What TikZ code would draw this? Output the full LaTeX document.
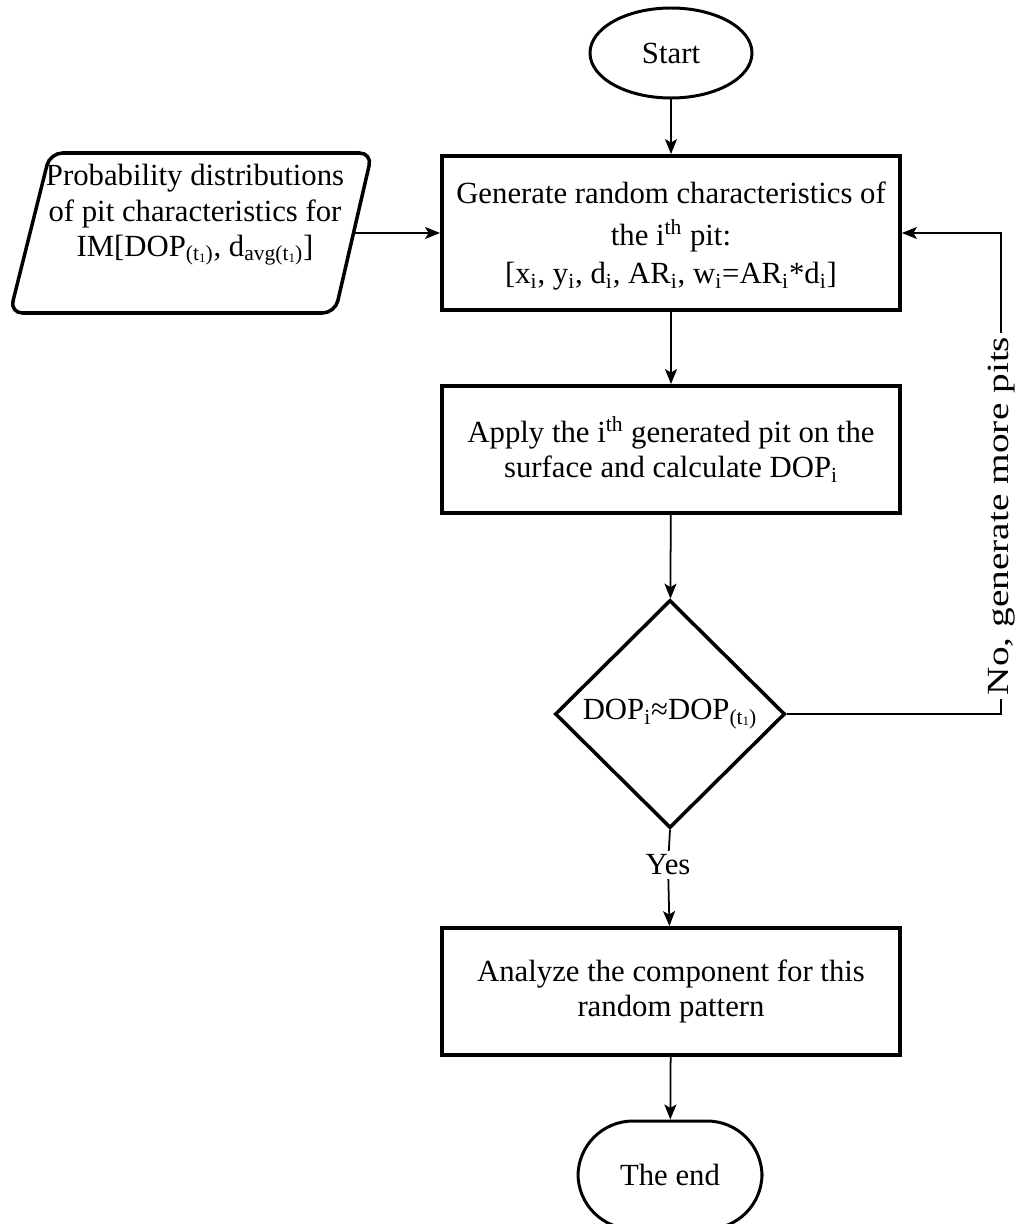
\documentclass[tikz,border=0pt]{standalone}
\usepackage{fontspec}
\setmainfont{Liberation Serif}
\usetikzlibrary{arrows.meta,shapes.geometric}
\newcommand{\subx}[1]{\textsubscript{#1}}
\newcommand{\supx}[1]{\textsuperscript{#1}}
\newcommand{\tone}{(t\raisebox{-0.15ex}{\scalebox{0.6}{1}})}
\begin{document}
\begin{tikzpicture}[font=\fontsize{17.5}{20}\selectfont,
    stepbox/.style={draw, line width=2.2pt, minimum width=9.16cm, align=center, inner sep=0pt},
    term/.style={draw, line width=1.7pt, align=center},
    arr/.style={-{Stealth[length=0.3cm,width=0.24cm,inset=0.07cm]}, line width=1pt},
    lbl/.style={fill=white, inner sep=2pt}]
    \useasboundingbox (0,0) rectangle (20.46,-24.48);
    \node [term, ellipse, minimum width=3.24cm, minimum height=1.8cm] (start) at (13.42,-1.06) {Start};
    \node [stepbox, minimum height=3.08cm] (gen) at (13.42,-4.66) {};
    \node [align=center] (gentxt) at (13.42,-4.72) {Generate random characteristics of\\[4pt] the i\supx{th} pit:\\[2pt] {[}x\subx{i}, y\subx{i}, d\subx{i}, AR\subx{i}, w\subx{i}=AR\subx{i}*d\subx{i}]};
    \draw [line width=2pt, rounded corners=0.25cm] (1,-3.06) -- (7.44,-3.06) -- (6.7,-6.26) -- (0.2,-6.26) -- cycle;
    \coordinate (probr) at (7.07,-4.66);
    \node [align=center] (prob) at (3.9,-4.3) {Probability distributions\\ of pit characteristics for\\ IM[DOP\subx{\tone}, d\subx{avg\tone}]};
    \node [stepbox, minimum height=2.54cm] (apply) at (13.42,-8.99) {Apply the i\supx{th} generated pit on the\\ surface and calculate DOP\subx{i}};
    \node [draw, line width=2pt, diamond, aspect=1, minimum width=4.6cm, minimum height=4.56cm, inner sep=0pt] (dec) at (13.4,-14.28) {DOP\subx{i}≈DOP\subx{\tone}};
    \node [stepbox, minimum height=2.54cm] (ana) at (13.42,-19.83) {Analyze the component for this\\ random pattern};
    \node [term, rectangle, rounded corners=1.1cm, minimum width=3.68cm, minimum height=2.16cm] (end) at (13.4,-23.5) {The end};
    \node [lbl] (yes) at (13.36,-17.3) {Yes};
    \coordinate (back) at (20.02,-4.66);
    \draw [arr] (start) -- (gen);
    \draw [arr] (probr) -- (gen.west);
    \draw [arr] (gen) -- (apply);
    \draw [arr] (apply) -- (dec);
    \draw [line width=1pt] (dec.south) -- (yes);
    \draw [arr] (yes) -- (ana);
    \draw [arr] (ana) -- (end);
    \draw [arr] (dec.east) -| (back) -- (gen.east);
    \node [lbl, rotate=90] (no) at (20.04,-10.32) {\scalebox{1.28}[1]{No, generate more pits}};
\end{tikzpicture}
\end{document}
